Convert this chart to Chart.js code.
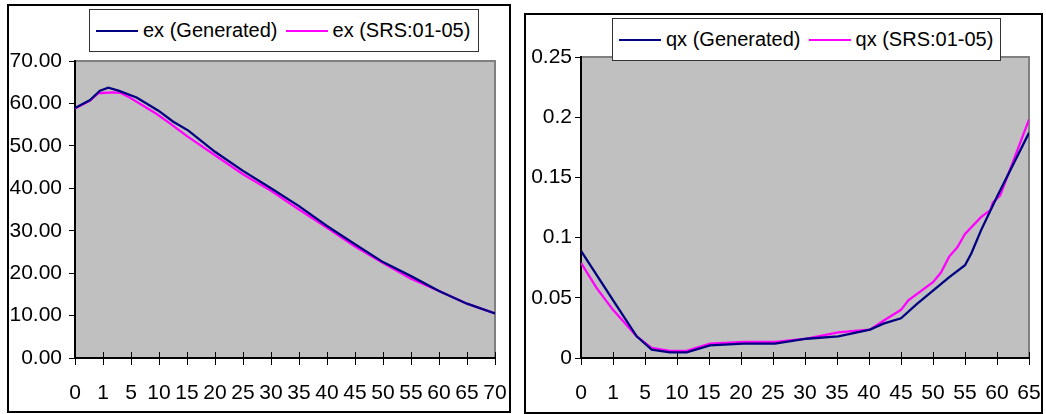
<!DOCTYPE html>
<html>
<head>
<meta charset="utf-8">
<script src="https://cdn.jsdelivr.net/npm/chart.js@4.4.1/dist/chart.umd.min.js"></script>
<style>
  body { margin: 0; background: #fff; font-family: "Liberation Sans", Arial, sans-serif; }
  .box { position: absolute; border: 2px solid #000; box-sizing: border-box; background: #fff; }
  .box canvas { position: absolute; left: 0; top: 0; }
  .legend { position: absolute; border: 1px solid #333; background: #fff; box-sizing: border-box;
            display: flex; align-items: center; font-size: 20px; white-space: nowrap; }
  .legend .sw { display: inline-block; height: 2px; margin-right: 5px; }
</style>
</head>
<body>

<div class="box" style="left:7px;top:4px;width:504px;height:409px">
  <canvas id="exChart" width="500" height="405"></canvas>
</div>
<div class="legend" id="exLegend" style="left:89px;top:9px;width:390px;height:43px;padding-left:6px"></div>

<div class="box" style="left:524px;top:13px;width:519px;height:401px">
  <canvas id="qxChart" width="515" height="397"></canvas>
</div>
<div class="legend" id="qxLegend" style="left:612px;top:18px;width:389px;height:43px;padding-left:6px"></div>

<script>
// x axis categories (ages)
const exAges = ["0", "1", "5", "10", "15", "20", "25", "30", "35", "40", "45", "50", "55", "60", "65", "70"];
const qxAges = ["0", "1", "5", "10", "15", "20", "25", "30", "35", "40", "45", "50", "55", "60", "65"];

// y tick values
const exYTicks = [0, 10, 20, 30, 40, 50, 60, 70];
const qxYTicks = [0, 0.05, 0.1, 0.15, 0.2, 0.25];

const seriesNames = ["(Generated)", "(SRS:01-05)"];
const seriesColors = ["#000080", "#ff00ff"];

// ex : positions are in category steps (0 = age 0, 1 = age 1, 2 = age 5 ...)
const exGenPos = [0, 0.54, 0.89, 1.19, 1.55, 2.2, 2.98, 3.51, 4.05, 5, 6, 7, 8, 9, 10, 11, 12, 13, 14, 15];
const exGenVal = [58.9, 60.8, 63.0, 63.7, 63.0, 61.4, 58.3, 55.7, 53.6, 48.6, 44.1, 40.0, 35.8, 31.1, 26.8, 22.6, 19.3, 15.8, 12.8, 10.5];
const exSrsPos = [0, 0.54, 0.83, 1.37, 1.61, 1.9, 2.32, 2.92, 3.39, 4, 5, 6, 7, 8, 9, 10, 11, 12, 13, 14, 15];
const exSrsVal = [58.8, 60.7, 62.4, 62.6, 62.5, 61.6, 59.9, 57.5, 55.3, 52.3, 47.8, 43.3, 39.4, 35.0, 30.7, 26.3, 22.4, 18.7, 15.8, 12.8, 10.5];

// qx
const qxGenPos = [0, 1, 1.74, 2.21, 2.78, 3.3, 4.03, 5.07, 6.06, 7.05, 8.04, 9.03, 9.45, 10, 10.5, 11, 11.5, 12, 12.2, 12.5, 13, 14];
const qxGenVal = [0.089, 0.048, 0.018, 0.007, 0.0047, 0.0047, 0.0105, 0.012, 0.012, 0.016, 0.018, 0.0236, 0.0285, 0.033, 0.045, 0.056, 0.067, 0.077, 0.087, 0.106, 0.134, 0.187];
const qxSrsPos = [0, 0.49, 1, 1.74, 2.21, 2.78, 3.3, 4.03, 5.07, 6.06, 7.05, 8.04, 8.55, 9.03, 9.45, 10, 10.23, 11, 11.25, 11.5, 11.76, 12, 12.5, 12.8, 12.87, 13.1, 14];
const qxSrsVal = [0.079, 0.058, 0.040, 0.018, 0.0083, 0.006, 0.006, 0.012, 0.0133, 0.0133, 0.016, 0.0213, 0.0225, 0.0236, 0.031, 0.040, 0.048, 0.063, 0.071, 0.084, 0.092, 0.103, 0.117, 0.123, 0.129, 0.135, 0.198];

Chart.defaults.font.family = "'Liberation Sans', Arial, sans-serif";
Chart.defaults.font.size = 21;
Chart.defaults.color = "#000";

const toPoints = (pos, val) => pos.map((p, i) => ({ x: p, y: val[i] }));

// grey plot area + small tick marks inside the x axis
const plotFrame = {
  id: "plotFrame",
  beforeDraw(chart) {
    const { ctx, chartArea: a } = chart;
    ctx.save();
    ctx.fillStyle = "#c0c0c0";
    ctx.fillRect(a.left, a.top, a.right - a.left, a.bottom - a.top);
    ctx.strokeStyle = "#808080";
    ctx.lineWidth = 2;
    ctx.strokeRect(a.left, a.top, a.right - a.left, a.bottom - a.top);
    ctx.restore();
  },
  beforeDatasetsDraw(chart) {
    const { ctx, chartArea: a, scales } = chart;
    ctx.save();
    ctx.strokeStyle = "#000";
    ctx.lineWidth = 1;
    scales.x.ticks.forEach(t => {
      const px = Math.round(scales.x.getPixelForValue(t.value)) + 0.5;
      ctx.beginPath();
      ctx.moveTo(px, a.bottom - 6);
      ctx.lineTo(px, a.bottom);
      ctx.stroke();
    });
    ctx.restore();
  }
};

function makeLegend(id, prefix) {
  const el = document.getElementById(id);
  seriesNames.forEach((name, i) => {
    const sw = document.createElement("span");
    sw.className = "sw";
    sw.style.width = "42px";
    sw.style.background = seriesColors[i];
    const tx = document.createElement("span");
    tx.textContent = prefix + " " + name;
    tx.style.marginRight = i === 0 ? "8px" : "0";
    el.appendChild(sw);
    el.appendChild(tx);
  });
}

function makeChart(id, prefix, ages, yTicks, yFmt, sets, geo) {
  return new Chart(document.getElementById(id), {
    type: "line",
    data: {
      datasets: sets.map((pts, i) => ({
        label: prefix + " " + seriesNames[i],
        data: pts,
        borderColor: seriesColors[i],
        borderWidth: 2.3,
        pointRadius: 0,
        tension: 0,
        fill: false
      }))
    },
    options: {
      responsive: false,
      animation: false,
      layout: { padding: { top: geo.top, right: geo.right, left: 0, bottom: 0 } },
      plugins: { legend: { display: false }, tooltip: { enabled: false } },
      scales: {
        x: {
          type: "linear",
          min: 0,
          max: ages.length - 1,
          afterBuildTicks: s => { s.ticks = ages.map((a, i) => ({ value: i })); },
          afterFit: s => { s.height = geo.xh; s.paddingLeft = 0; s.paddingRight = 0; },
          ticks: { autoSkip: false, maxRotation: 0, padding: 16, callback: v => ages[v] },
          grid: { drawOnChartArea: false, tickLength: 7, color: "#000", lineWidth: 1 },
          border: { color: "#000", width: 2 }
        },
        y: {
          min: 0,
          max: yTicks[yTicks.length - 1],
          afterBuildTicks: s => { s.ticks = yTicks.map(v => ({ value: v })); },
          afterFit: s => { s.width = geo.yw; },
          ticks: { padding: geo.ypad, callback: yFmt },
          grid: { drawOnChartArea: false, tickLength: 6, color: "#000", lineWidth: 1 },
          border: { color: "#000", width: 2 }
        }
      }
    },
    plugins: [plotFrame]
  });
}

makeLegend("exLegend", "ex");
makeLegend("qxLegend", "qx");

makeChart("exChart", "ex", exAges, exYTicks, v => v.toFixed(2),
  [toPoints(exGenPos, exGenVal), toPoints(exSrsPos, exSrsVal)],
  { top: 55, right: 14, xh: 53, yw: 66, ypad: 7 });

makeChart("qxChart", "qx", qxAges, qxYTicks, v => String(Number(v.toFixed(2))),
  [toPoints(qxGenPos, qxGenVal), toPoints(qxSrsPos, qxSrsVal)],
  { top: 42, right: 12, xh: 54, yw: 55, ypad: 3 });
</script>
</body>
</html>
